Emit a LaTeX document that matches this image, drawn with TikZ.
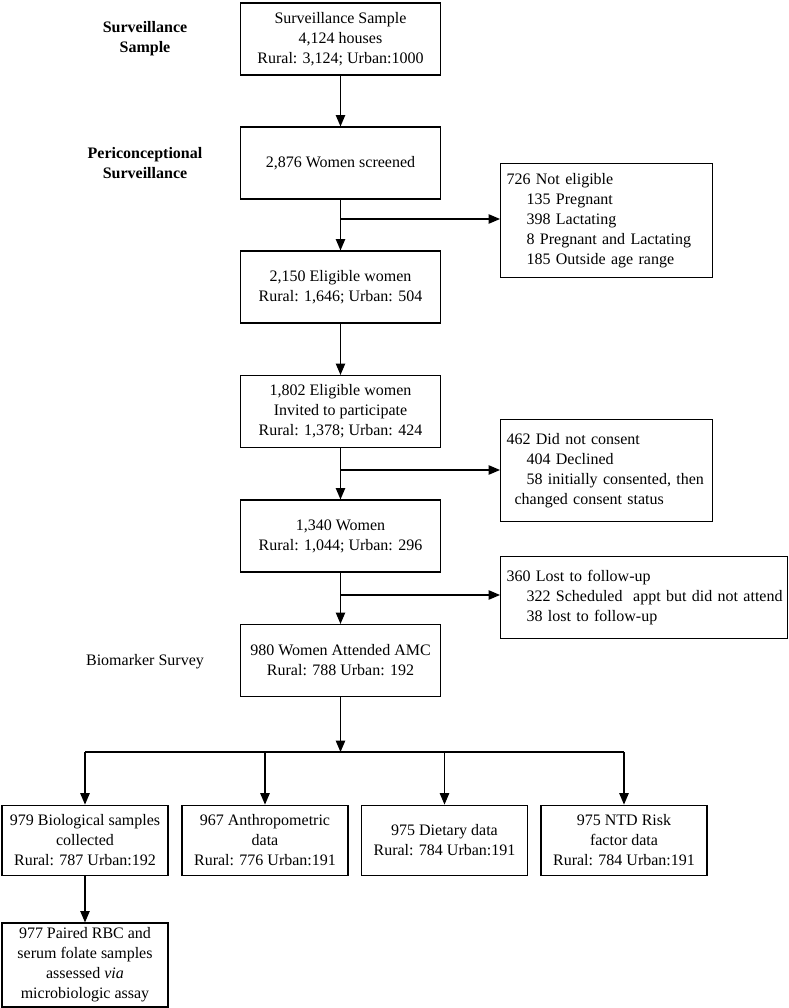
\documentclass[tikz,border=0pt]{standalone}
\usepackage{fontspec}
\setmainfont{Liberation Serif}
\usetikzlibrary{arrows.meta}

\begin{document}
\begin{tikzpicture}[x=0.75pt, y=-0.75pt, line width=0.9pt, >={Triangle[length=8.5pt,width=7pt]},
    every node/.style={font=\fontsize{12}{15}\selectfont},
    flow box/.style={draw,align=center,minimum width=150pt,minimum height=54pt,inner sep=3pt},
    out box/.style={draw,align=center,minimum width=124.5pt,minimum height=53pt,inner sep=2pt},
    side box/.style={draw,align=left,anchor=west,inner xsep=4.5pt},
    stage label/.style={align=center,font=\fontsize{12}{15}\selectfont\bfseries}]

    \useasboundingbox (0,0) rectangle (789,1008);

    % stage labels
    \node[stage label] at (145,39) (lsample) {Surveillance\\Sample};
    \node[stage label] at (145,163) (lpericon) {Periconceptional\\Surveillance};
    \node at (145,662) (lbiomarker) {Biomarker Survey};

    % main column
    \node[flow box] at (340.5,39) (houses) {Surveillance Sample\\4,124 houses\\Rural: 3,124; Urban:1000};
    \node[flow box] at (340.5,163) (screened) {2,876 Women screened};
    \node[flow box] at (340.5,287) (eligible) {2,150 Eligible women\\Rural: 1,646; Urban: 504};
    \node[flow box] at (340.5,411.5) (invited) {1,802 Eligible women\\Invited to participate\\Rural: 1,378; Urban: 424};
    \node[flow box] at (340.5,536) (women) {1,340 Women\\Rural: 1,044; Urban: 296};
    \node[flow box] at (340.5,660.5) (amc) {980 Women Attended AMC\\Rural: 788 Urban: 192};

    % exclusions
    \node[side box, text width=150pt, minimum height=86pt] at (500,220.5) (notelig) {726 Not eligible\\
        \hspace*{15pt}135 Pregnant\\
        \hspace*{15pt}398 Lactating\\
        \hspace*{15pt}8 Pregnant and Lactating\\
        \hspace*{15pt}185 Outside age range};
    \node[side box, text width=150pt, minimum height=77pt] at (500,470.5) (noconsent) {462 Did not consent\\
        \hspace*{15pt}404 Declined\\
        \hspace*{15pt}\mbox{58 initially consented, then}\\
        \hspace*{6pt}changed consent status};
    \node[side box, text width=206pt, minimum height=62pt] at (500,597.5) (lost) {360 Lost to follow-up\\
        \hspace*{15pt}\mbox{322 Scheduled\ \ appt but did not attend}\\
        \hspace*{15pt}38 lost to follow-up};

    % data collected
    \node[out box] at (85,840.5) (bio) {979 Biological samples\\collected\\Rural: 787 Urban:192};
    \node[out box] at (265,840.5) (anthro) {967 Anthropometric\\data\\Rural: 776 Urban:191};
    \node[out box] at (444.5,840.5) (diet) {975 Dietary data\\Rural: 784 Urban:191};
    \node[out box] at (624,840.5) (ntd) {975 NTD Risk\\factor data\\Rural: 784 Urban:191};
    \node[out box, minimum height=63pt] at (85,965) (folate) {977 Paired RBC and\\serum folate samples\\assessed \textit{via}\\microbiologic assay};

    \coordinate (cut1) at (340.5,219);
    \coordinate (cut2) at (340.5,470);
    \coordinate (cut3) at (340.5,595);
    \coordinate (split) at (340.5,752);

    \path[->] (houses) edge (screened);
    \path[->] (screened) edge (eligible);
    \path[->] (eligible) edge (invited);
    \path[->] (invited) edge (women);
    \path[->] (women) edge (amc);
    \path[->] (amc) edge (split);
    \path[->] (bio) edge (folate);

    \draw[->] (cut1) -- (cut1 -| notelig.west);
    \draw[->] (cut2) -- (cut2 -| noconsent.west);
    \draw[->] (cut3) -- (cut3 -| lost.west);

    \draw (split -| bio) -- (split -| ntd);
    \foreach \n in {bio,anthro,diet,ntd}
        \draw[->] (split -| \n) -- (\n);
\end{tikzpicture}
\end{document}
